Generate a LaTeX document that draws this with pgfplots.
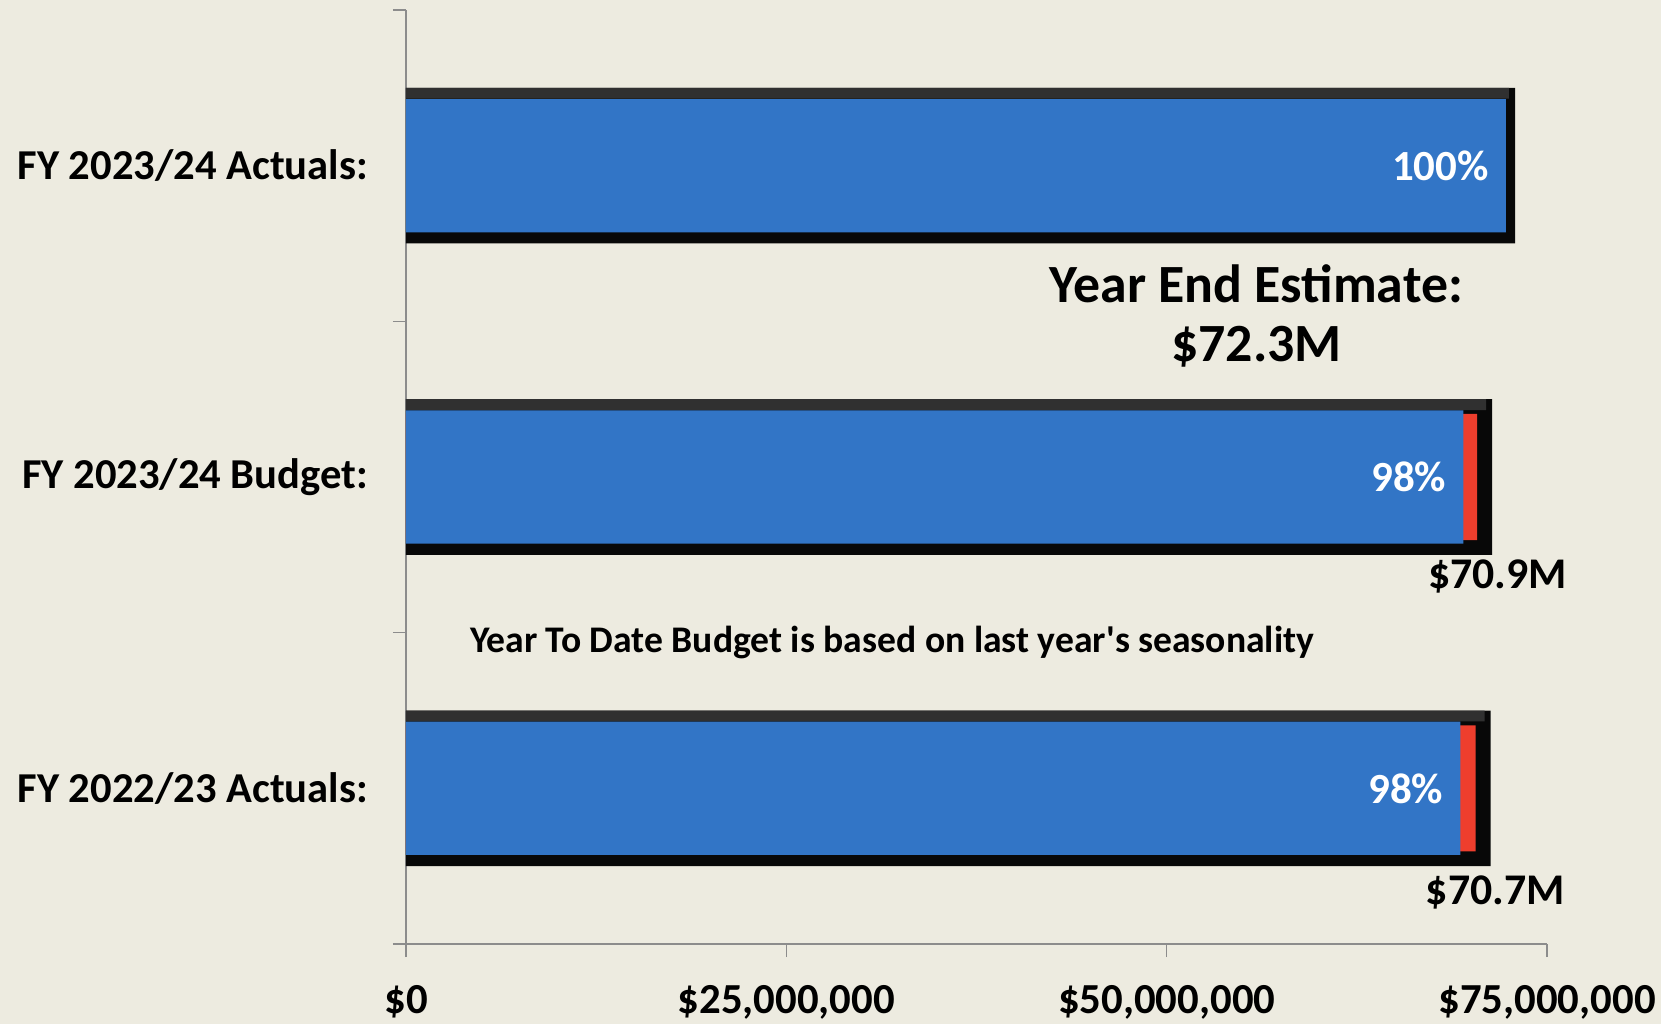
\documentclass[border=0pt]{standalone}
\usepackage{pgfplots}
\pgfplotsset{compat=1.18}
\usepackage{fontspec}
\setmainfont{Carlito}
\definecolor{bg}{RGB}{237,235,224}
\definecolor{barblue}{RGB}{50,117,198}
\definecolor{barred}{RGB}{238,62,45}
\definecolor{axgray}{RGB}{140,140,140}
\definecolor{bevel}{RGB}{48,48,48}
\definecolor{frame}{RGB}{8,8,8}
\begin{document}
\begin{tikzpicture}
\fill[bg] (0,0) rectangle (830.5pt,512pt);
\begin{axis}[
  at={(203pt,40pt)}, anchor=south west,
  scale only axis, width=570.5pt, height=467pt,
  xmin=0, xmax=75, ymin=0.5, ymax=3.5,
  axis lines=left, axis line style={-, draw=axgray, line width=1pt},
  tick align=outside, major tick length=6.5pt, minor tick length=6.5pt,
  tick style={draw=axgray, line width=0.8pt},
  xtick={0,25,50,75},
  xticklabels={{\$0},{\$25,000,000},{\$50,000,000},{\$75,000,000}},
  xticklabel style={font=\fontsize{21.4}{25}\selectfont\bfseries, yshift=-10.5pt},
  ytick={1,2,3},
  yticklabels={{FY 2022/23 Actuals:},{FY 2023/24 Budget:},{FY 2023/24 Actuals:}},
  yticklabel style={font=\fontsize{21.3}{24}\selectfont\bfseries, xshift=-9pt},
  every major y tick/.append style={draw=none},
  minor ytick={0.5,1.5,2.5,3.5},
  clip=false,
]
% outer black frame bars
\addplot[xbar, bar shift=0pt, bar width=0.5, draw=none, fill=frame]
  coordinates {(72.9,3) (71.4,2) (71.3,1)};
% bevel strip on top of frame
\addplot[xbar, bar shift=0.2325, bar width=0.035, draw=none, fill=bevel]
  coordinates {(72.5,3) (71.0,2) (70.9,1)};
% red remainder segment
\addplot[xbar, bar shift=0pt, bar width=0.405, draw=none, fill=barred]
  coordinates {(70.4,2) (70.3,1)};
% blue actual bars with percentage labels
\addplot[xbar, bar shift=0pt, bar width=0.428, draw=none, fill=barblue,
  point meta=explicit symbolic,
  nodes near coords,
  every node near coord/.append style={anchor=east, xshift=-5pt, text=white,
     font=\fontsize{21.5}{25}\selectfont\bfseries}]
  table[meta=label] {
x y label
72.3 3 100\%
69.5 2 98\%
69.3 1 98\%
};
\node[font=\fontsize{26.9}{31}\selectfont\bfseries] at (axis cs:55.9,2.62) {Year End Estimate:};
\node[font=\fontsize{26.9}{31}\selectfont\bfseries] at (axis cs:55.9,2.42) {\$72.3M};
\node[font=\fontsize{21.9}{25}\selectfont\bfseries] at (axis cs:71.76,1.68) {\$70.9M};
\node[font=\fontsize{21.9}{25}\selectfont\bfseries] at (axis cs:71.6,0.665) {\$70.7M};
\node[font=\fontsize{18.8}{22}\selectfont\bfseries] at (axis cs:31.95,1.47) {Year To Date Budget is based on last year\textquotesingle s seasonality};
\end{axis}
\pgfresetboundingbox
\path[use as bounding box] (0,0) rectangle (830.5pt,512pt);
\end{tikzpicture}
\end{document}
